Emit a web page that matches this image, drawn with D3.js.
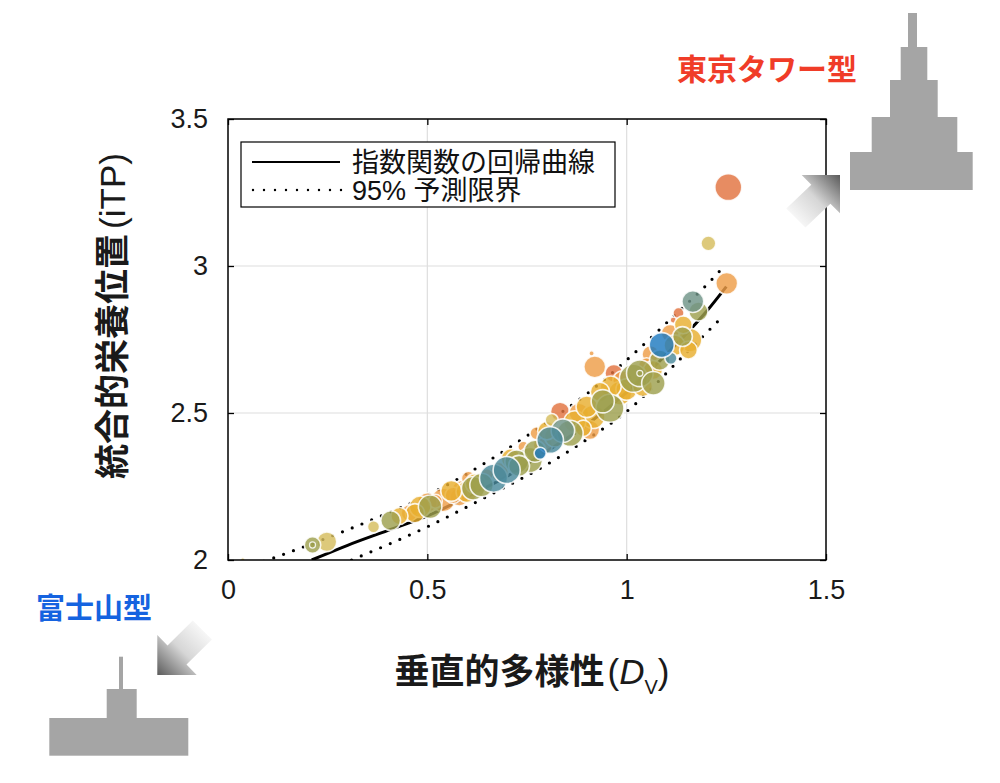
<!DOCTYPE html>
<html>
<head>
<meta charset="utf-8">
<script src="https://cdn.jsdelivr.net/npm/d3@7"></script>
<style>
  body { margin: 0; background: #fff; }
  svg text { font-family: "Liberation Sans", "Noto Sans CJK JP", sans-serif; }
</style>
</head>
<body>
<svg id="chart" width="1000" height="783"></svg>
<script>
// ---- data ----
const X_TICKS = [0, 0.5, 1, 1.5]
const Y_TICKS = [2, 2.5, 3, 3.5]

// exponential regression curve
const fitDv  = [0.21, 0.3, 0.4, 0.5, 0.6, 0.7, 0.8, 0.9, 1.0, 1.1, 1.2, 1.25]
const fitItp = [2.0, 2.05, 2.10, 2.15, 2.215, 2.285, 2.37, 2.46, 2.57, 2.70, 2.845, 2.93]

// 95% prediction bounds
const upperDv  = [0.09, 0.2, 0.36, 0.5, 0.68, 0.78, 0.9, 1.0, 1.13, 1.2, 1.245]
const upperItp = [1.995, 2.05, 2.136, 2.22, 2.36, 2.45, 2.565, 2.68, 2.845, 2.935, 3.0]
const lowerDv  = [0.31, 0.5, 0.665, 0.8, 0.9, 1.0, 1.134, 1.242]
const lowerItp = [2.0, 2.113, 2.227, 2.325, 2.41, 2.505, 2.683, 2.83]

// lakes: vertical diversity, iTP, bubble magnitude, colour group
const bubbleDv = [0.037, 0.212, 0.212, 0.248, 0.365, 0.408, 0.455, 0.469, 0.482, 0.507,
  0.520, 0.540, 0.565, 0.586, 0.603, 0.599, 0.615, 0.636, 0.650, 0.666,
  0.699, 0.724, 0.741, 0.757, 0.774, 0.783, 0.790, 0.808, 0.812, 0.833,
  0.840, 0.858, 0.891, 0.908, 0.900, 0.916, 0.933, 0.958, 0.983, 0.920,
  0.912, 0.968, 1.000, 1.017, 1.033, 1.033, 1.066, 1.067, 1.050, 1.083,
  1.088, 1.111, 1.109, 1.117, 1.142, 1.159, 1.155, 1.180, 1.166, 1.251,
  1.205, 1.255,
  0.430, 0.500, 0.560, 0.580, 0.620, 0.680, 0.710, 0.730, 0.770, 0.800,
  0.820, 0.870, 0.880, 0.940, 0.960, 0.990, 1.040, 1.060, 1.120, 1.140,
  1.130]
const bubbleItp = [2.000, 2.051, 2.051, 2.062, 2.113, 2.134, 2.160, 2.159, 2.181, 2.181,
  2.200, 2.204, 2.220, 2.238, 2.278, 2.232, 2.244, 2.255, 2.290, 2.278,
  2.306, 2.334, 2.385, 2.340, 2.431, 2.363, 2.390, 2.408, 2.476, 2.504,
  2.440, 2.431, 2.448, 2.442, 2.521, 2.487, 2.572, 2.516, 2.567, 2.657,
  2.703, 2.635, 2.580, 2.618, 2.635, 2.635, 2.646, 2.601, 2.660, 2.680,
  2.731, 2.686, 2.771, 2.816, 2.800, 2.748, 2.714, 2.845, 2.879, 2.941,
  3.077, 3.268,
  2.150, 2.195, 2.235, 2.215, 2.260, 2.300, 2.345, 2.320, 2.370, 2.440,
  2.420, 2.470, 2.500, 2.540, 2.590, 2.610, 2.590, 2.700, 2.730, 2.760,
  2.840]
const bubbleMag = [1.5, 22, 3, 32, 12, 32, 22, 30, 38, 45,
  16, 45, 22, 30, 16, 38, 45, 45, 12, 64,
  60, 45, 10, 52, 14, 12, 30, 58, 14, 30,
  45, 56, 22, 30, 38, 45, 30, 64, 45, 39,
  2, 26, 38, 64, 58, 3, 30, 45, 22, 34,
  51, 12, 26, 3, 26, 45, 26, 30, 39, 39,
  18, 59,
  24, 32, 36, 28, 32, 28, 32, 36, 40, 28,
  36, 40, 32, 44, 36, 32, 32, 24, 36, 32,
  10]
const bubbleGroup = [3, 4, 4, 3, 3, 4, 1, 2, 2, 4,
  1, 1, 1, 1, 1, 2, 4, 4, 1, 6,
  6, 4, 1, 4, 1, 7, 1, 6, 3, 0,
  5, 4, 2, 1, 2, 2, 2, 4, 2, 1,
  1, 0, 2, 4, 4, 4, 2, 4, 1, 4,
  7, 6, 1, 0, 2, 2, 2, 4, 5, 1,
  3, 0,
  2, 1, 2, 1, 2, 1, 2, 4, 4, 2,
  2, 2, 1, 4, 2, 1, 2, 1, 2, 4,
  0]
const GROUP_COLORS = ['#e2733f', '#ee9e48', '#e8ae30', '#d5bd5e', '#9da04e', '#6f9488', '#4a8a9c', '#1f7ac0']

const LEGEND_LABELS = ['指数関数の回帰曲線', '95% 予測限界']

// ---- layout ----
const svg = d3.select('#chart')
const PLOT = { left: 228, right: 826, top: 119, bottom: 560 }

const x = d3.scaleLinear().domain([0, 1.5]).range([PLOT.left, PLOT.right])
const y = d3.scaleLinear().domain([2, 3.5]).range([PLOT.bottom, PLOT.top])
const r = d3.scaleSqrt().domain([0, 100]).range([0, 17.5])

svg.append('defs').append('clipPath').attr('id', 'plot-clip')
  .append('rect')
  .attr('x', PLOT.left).attr('y', PLOT.top)
  .attr('width', PLOT.right - PLOT.left).attr('height', PLOT.bottom - PLOT.top)

// grid
svg.append('g').selectAll('line.gx')
  .data(X_TICKS.slice(1, -1)).enter().append('line')
  .attr('x1', d => x(d)).attr('x2', d => x(d))
  .attr('y1', PLOT.top).attr('y2', PLOT.bottom)
  .attr('stroke', '#dedede').attr('stroke-width', 1.2)
svg.append('g').selectAll('line.gy')
  .data(Y_TICKS.slice(1, -1)).enter().append('line')
  .attr('x1', PLOT.left).attr('x2', PLOT.right)
  .attr('y1', d => y(d)).attr('y2', d => y(d))
  .attr('stroke', '#dedede').attr('stroke-width', 1.2)

// curves
const plotG = svg.append('g').attr('clip-path', 'url(#plot-clip)')
const line = d3.line().x(d => x(d[0])).y(d => y(d[1])).curve(d3.curveMonotoneX)

plotG.append('path')
  .datum(d3.zip(fitDv, fitItp))
  .attr('d', line)
  .attr('fill', 'none').attr('stroke', '#000').attr('stroke-width', 3)

;[d3.zip(upperDv, upperItp), d3.zip(lowerDv, lowerItp)].forEach(pts => {
  plotG.append('path')
    .datum(pts)
    .attr('d', line)
    .attr('fill', 'none').attr('stroke', '#000').attr('stroke-width', 3.2)
    .attr('stroke-linecap', 'round')
    .attr('stroke-dasharray', '0,10.5')
})

// bubbles, drawn warm colours first
const bubbles = bubbleDv.map((dv, i) => ({ dv, itp: bubbleItp[i], mag: bubbleMag[i], g: bubbleGroup[i], i }))
bubbles.sort((a, b) => a.g - b.g || b.mag - a.mag)

plotG.append('g').selectAll('circle')
  .data(bubbles).enter().append('circle')
  .attr('cx', d => x(d.dv))
  .attr('cy', d => y(d.itp))
  .attr('r', d => r(d.mag))
  .attr('fill', d => GROUP_COLORS[d.g])
  .attr('fill-opacity', 0.82)
  .attr('stroke', '#fff')
  .attr('stroke-opacity', 0.85)
  .attr('stroke-width', d => d.mag < 8 ? 1.2 : 1.6)

// axes, MATLAB style: ticks inside on all four sides
const axisStyle = g => {
  g.select('.domain').remove()
  g.selectAll('.tick line').attr('stroke', '#000').attr('stroke-width', 1.3)
  g.selectAll('.tick text').attr('fill', '#1a1a1a').style('font-size', '27px')
}
svg.append('g').attr('transform', `translate(0,${PLOT.bottom})`)
  .call(d3.axisBottom(x).tickValues(X_TICKS).tickSizeInner(-6).tickSizeOuter(0).tickPadding(20).tickFormat(d3.format('')))
  .call(axisStyle)
svg.append('g').attr('transform', `translate(0,${PLOT.top})`)
  .call(d3.axisTop(x).tickValues(X_TICKS).tickSizeInner(-6).tickSizeOuter(0).tickFormat(''))
  .call(axisStyle)
svg.append('g').attr('transform', `translate(${PLOT.left},0)`)
  .call(d3.axisLeft(y).tickValues(Y_TICKS).tickSizeInner(-6).tickSizeOuter(0).tickPadding(20).tickFormat(d3.format('')))
  .call(axisStyle)
svg.append('g').attr('transform', `translate(${PLOT.right},0)`)
  .call(d3.axisRight(y).tickValues(Y_TICKS).tickSizeInner(-6).tickSizeOuter(0).tickFormat(''))
  .call(axisStyle)

svg.append('rect')
  .attr('x', PLOT.left).attr('y', PLOT.top)
  .attr('width', PLOT.right - PLOT.left).attr('height', PLOT.bottom - PLOT.top)
  .attr('fill', 'none').attr('stroke', '#000').attr('stroke-width', 1.5)

// legend
const legend = svg.append('g').attr('transform', 'translate(241,142)')
legend.append('rect').attr('width', 374).attr('height', 65)
  .attr('fill', '#fff').attr('stroke', '#000').attr('stroke-width', 1.2)
legend.append('line').attr('x1', 11).attr('x2', 99).attr('y1', 20).attr('y2', 20)
  .attr('stroke', '#000').attr('stroke-width', 2.2)
legend.append('line').attr('x1', 12).attr('x2', 101).attr('y1', 48).attr('y2', 48)
  .attr('stroke', '#000').attr('stroke-width', 2.4)
  .attr('stroke-linecap', 'round').attr('stroke-dasharray', '0,11')
legend.selectAll('text').data(LEGEND_LABELS).enter().append('text')
  .attr('x', 111).attr('y', (d, i) => 21 + i * 28)
  .attr('dominant-baseline', 'central')
  .style('font-size', '27px').attr('fill', '#111')
  .text(d => d)

// axis titles
const yTitle = svg.append('text')
  .attr('transform', 'translate(112,316) rotate(-90)')
  .attr('text-anchor', 'middle').attr('dominant-baseline', 'central')
  .style('font-size', '35px').attr('fill', '#1a1a1a')
yTitle.append('tspan').attr('font-weight', 'bold').text('統合的栄養位置')
yTitle.append('tspan').attr('dx', 5).text('(iTP)')

const xTitle = svg.append('text')
  .attr('x', 532).attr('y', 684)
  .attr('text-anchor', 'middle')
  .style('font-size', '35px').attr('fill', '#1a1a1a')
xTitle.append('tspan').attr('font-weight', 'bold').text('垂直的多様性')
xTitle.append('tspan').attr('dx', 3).text('(')
xTitle.append('tspan').attr('font-style', 'italic').text('D')
xTitle.append('tspan').attr('dy', 10).style('font-size', '20px').text('V')
xTitle.append('tspan').attr('dy', -10).text(')')

// decorations: lake shape sketches and arrows
const GRAY = '#a5a5a5'
const towerSteps = [[908, 13, 9, 34], [900.7, 47, 26.6, 33], [890, 80, 47.7, 37], [871.7, 117, 85.6, 35], [850, 152, 122.7, 38]]
const fujiSteps = [[119, 656.7, 4, 33], [106.7, 689, 30, 29], [49.3, 718, 139, 37.7]]
svg.append('g').selectAll('rect').data(towerSteps.concat(fujiSteps)).enter().append('rect')
  .attr('x', d => d[0]).attr('y', d => d[1]).attr('width', d => d[2]).attr('height', d => d[3])
  .attr('fill', GRAY)

const defs = svg.select('defs')
const addGrad = (id, x1, y1, x2, y2) => {
  const g = defs.append('linearGradient').attr('id', id)
    .attr('gradientUnits', 'userSpaceOnUse')
    .attr('x1', x1).attr('y1', y1).attr('x2', x2).attr('y2', y2)
  g.append('stop').attr('offset', 0).attr('stop-color', '#f6f6f6')
  g.append('stop').attr('offset', 0.45).attr('stop-color', '#d6d6d6')
  g.append('stop').attr('offset', 1).attr('stop-color', '#5a5a5a')
}
addGrad('arrow-tower', 796, 218, 840, 175)
addGrad('arrow-fuji', 202, 630, 157, 675)

svg.append('polygon')
  .attr('points', '840,175 840,213.3 830.4,203.8 805.4,227.6 786.3,208.5 811.3,184.7 801.7,175')
  .attr('fill', 'url(#arrow-tower)')
svg.append('polygon')
  .attr('points', '157.3,675 157.3,635 167.5,645.5 192.8,620.5 211.9,639.5 186.5,664.5 196.7,675')
  .attr('fill', 'url(#arrow-fuji)')

svg.append('text').attr('x', 767).attr('y', 69)
  .attr('text-anchor', 'middle').attr('dominant-baseline', 'central')
  .attr('font-weight', 'bold').style('font-size', '30px').attr('fill', '#f03c28')
  .text('東京タワー型')
svg.append('text').attr('x', 94).attr('y', 609)
  .attr('text-anchor', 'middle').attr('dominant-baseline', 'central')
  .attr('font-weight', 'bold').style('font-size', '29px').attr('fill', '#1563e0')
  .text('富士山型')
</script>
</body>
</html>
